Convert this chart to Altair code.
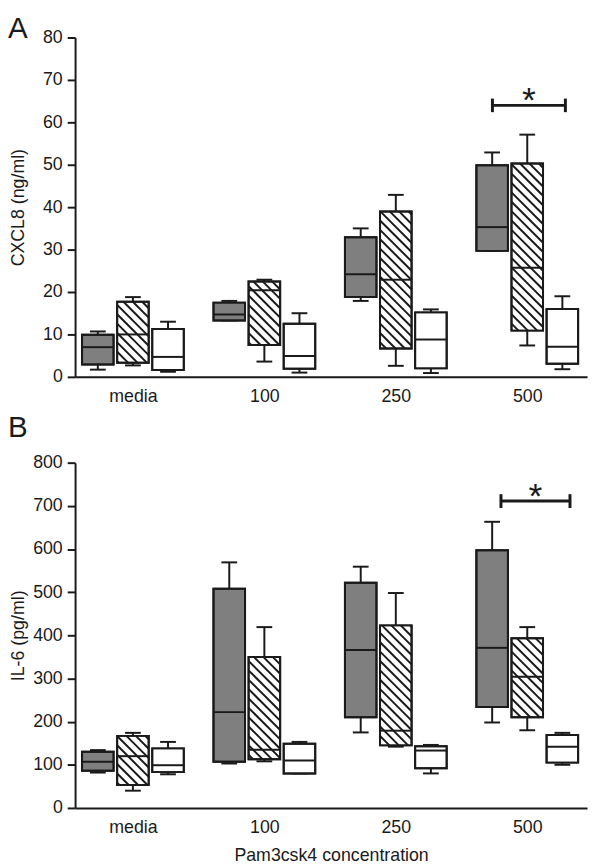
import json
import math
import altair as alt
import pandas as pd

# ---------------- data ----------------
GROUPS = ["media", "100", "250", "500"]
SERIES = ["gray", "hatched", "white"]

# each entry: [whisker low, Q1, median, Q3, whisker high]
cxcl8_gray = [[1.7, 2.9, 7.0, 9.9, 10.7], [13.3, 13.3, 14.7, 17.5, 17.9],
              [17.9, 18.8, 24.2, 32.9, 35.0], [29.7, 29.7, 35.3, 49.9, 52.9]]
cxcl8_hatched = [[2.7, 3.3, 10.0, 17.7, 18.8], [3.6, 7.5, 20.4, 22.5, 22.9],
                 [2.6, 6.7, 22.9, 39.0, 42.9], [7.4, 10.9, 25.7, 50.3, 57.1]]
cxcl8_white = [[1.2, 1.6, 4.7, 11.3, 13.0], [1.0, 1.9, 4.9, 12.5, 15.0],
               [0.9, 2.0, 8.8, 15.2, 15.9], [1.8, 3.1, 7.1, 16.0, 19.0]]

il6_gray = [[82, 86, 107, 130, 134], [103, 107, 222, 508, 569],
            [175, 210, 366, 522, 559], [198, 234, 371, 597, 663]]
il6_hatched = [[40, 53, 120, 167, 174], [108, 113, 135, 350, 419],
               [142, 145, 179, 423, 498], [180, 210, 304, 393, 419]]
il6_white = [[78, 83, 99, 138, 153], [80, 80, 110, 149, 153],
             [80, 92, 133, 143, 146], [100, 105, 142, 169, 174]]

cxcl8_ticks = [0, 10, 20, 30, 40, 50, 60, 70, 80]
il6_ticks = [0, 100, 200, 300, 400, 500, 600, 700, 800]

# significance bars: [x start, x end, y, cap half height]
sig_cxcl8 = [2.735, 3.29, 64.0, 1.6]
sig_il6 = [2.80, 3.325, 711.0, 16.0]

# ---------------- styling ----------------
FILLS = {"gray": "#7f7f7f", "hatched": "#ffffff", "white": "#ffffff"}
INK = "#1a1a1a"
FONT = "Liberation Sans"
XMIN, XMAX = -0.44, 3.455
W = 519
OFFS = [-0.267, 0.0, 0.267]
HALF = 0.12
CAP = 0.06
FS = 18


def box_frame(stats):
    rows = []
    for si, svals in enumerate(stats):
        for gi, v in enumerate(svals):
            xc = gi + OFFS[si]
            rows.append(dict(series=SERIES[si], fill=FILLS[SERIES[si]], xc=xc,
                             xl=xc - HALF, xr=xc + HALF, cl=xc - CAP, cr=xc + CAP,
                             lo=v[0], q1=v[1], med=v[2], q3=v[3], hi=v[4]))
    return pd.DataFrame(rows)


def hatch_frame(df, px_x, px_y, step=9.5):
    rows = []
    hw = HALF * px_x
    for _, r in df.iterrows():
        x0, x1 = -hw, hw
        ylo, yhi = r.q1 * px_y, r.q3 * px_y
        c = math.ceil((x0 + ylo) / step) * step
        while c < x1 + yhi:
            xa = max(x0, c - yhi)
            xb = min(x1, c - ylo)
            if xb - xa > 1:
                rows.append(dict(hx1=r.xc + xa / px_x, hy1=(c - xa) / px_y,
                                 hx2=r.xc + xb / px_x, hy2=(c - xb) / px_y))
            c += step
    return pd.DataFrame(rows)


def panel(stats, ymax, yticks, H, ytitle, letter, letter_offset, sig, xtitle):
    df = box_frame(stats)
    px_x = W / (XMAX - XMIN)
    px_y = H / ymax
    hatch = hatch_frame(df[df.series == "hatched"], px_x, px_y)

    xs = alt.Scale(domain=[XMIN, XMAX], nice=False, zero=False)
    ys = alt.Scale(domain=[0, ymax], nice=False, zero=True)
    label_expr = json.dumps(GROUPS) + "[datum.value]"
    xaxis = alt.Axis(values=[0, 1, 2, 3], labelExpr=label_expr, ticks=False,
                     grid=False, domainColor=INK, domainWidth=2,
                     labelFontSize=FS, labelColor=INK, labelPadding=11,
                     labelFlush=False, labelFont=FONT,
                     titleFontSize=FS, titleFontWeight="normal", titleColor=INK,
                     titlePadding=10, titleFont=FONT)
    yaxis = alt.Axis(values=yticks, tickSize=8, tickWidth=2, tickColor=INK,
                     grid=False, domainColor=INK, domainWidth=2,
                     labelFontSize=FS, labelColor=INK, labelPadding=5, labelFont=FONT,
                     titleFontSize=FS, titleFontWeight="normal", titleColor=INK,
                     titleX=-48, titleFont=FONT)

    def X(f):
        return alt.X(f, type="quantitative", scale=xs, axis=xaxis, title=xtitle)

    def Y(f):
        return alt.Y(f, type="quantitative", scale=ys, axis=yaxis, title=ytitle)

    base = alt.Chart(df)
    whisk = base.mark_rule(color=INK, strokeWidth=2).encode(x=X("xc"), y=Y("lo"), y2="hi:Q")
    cap_hi = base.mark_rule(color=INK, strokeWidth=2).encode(x=X("cl"), x2="cr:Q", y=Y("hi"))
    cap_lo = base.mark_rule(color=INK, strokeWidth=2).encode(x=X("cl"), x2="cr:Q", y=Y("lo"))
    box = base.mark_rect(stroke=INK, strokeWidth=2).encode(
        x=X("xl"), x2="xr:Q", y=Y("q1"), y2="q3:Q", fill=alt.Fill("fill:N", scale=None))
    hatch_l = alt.Chart(hatch).mark_rule(color=INK, strokeWidth=2).encode(
        x=X("hx1"), y=Y("hy1"), x2="hx2:Q", y2="hy2:Q")
    outline = base.mark_rect(fillOpacity=0, stroke=INK, strokeWidth=2).encode(
        x=X("xl"), x2="xr:Q", y=Y("q1"), y2="q3:Q")
    med = base.mark_rule(color=INK, strokeWidth=2).encode(x=X("xl"), x2="xr:Q", y=Y("med"))

    sdf = pd.DataFrame([dict(x1=sig[0], x2=sig[1], y=sig[2], ylo=sig[2] - sig[3],
                             yhi=sig[2] + sig[3], xm=(sig[0] + sig[1]) / 2, star="*")])
    sb = alt.Chart(sdf)
    bar = sb.mark_rule(color=INK, strokeWidth=3).encode(x=X("x1"), x2="x2:Q", y=Y("y"))
    bcap1 = sb.mark_rule(color=INK, strokeWidth=3).encode(x=X("x1"), y=Y("ylo"), y2="yhi:Q")
    bcap2 = sb.mark_rule(color=INK, strokeWidth=3).encode(x=X("x2"), y=Y("ylo"), y2="yhi:Q")
    star = sb.mark_text(fontSize=36, font=FONT, color=INK, baseline="alphabetic", dy=7).encode(
        x=X("xm"), y=Y("y"), text="star:N")

    return alt.layer(whisk, cap_hi, cap_lo, box, hatch_l, outline, med,
                     bar, bcap1, bcap2, star).properties(
        width=W, height=H,
        title=alt.TitleParams(letter, anchor="start", frame="group", fontSize=30,
                              font=FONT, fontWeight="normal", color=INK,
                              dx=-68, offset=letter_offset))


pa = panel([cxcl8_gray, cxcl8_hatched, cxcl8_white], 80, cxcl8_ticks, 344,
           "CXCL8 (ng/ml)", "A", -15, sig_cxcl8, None)
pb = panel([il6_gray, il6_hatched, il6_white], 800, il6_ticks, 350,
           "IL-6 (pg/ml)", "B", 11, sig_il6, "Pam3csk4 concentration")

chart = alt.vconcat(pa, pb, spacing=8).properties(
    padding={"left": 0, "top": 0, "right": 5, "bottom": 0}
).configure(font=FONT).configure_view(stroke=None)

chart.save("out.html", embed_options={"renderer": "svg", "actions": False})
